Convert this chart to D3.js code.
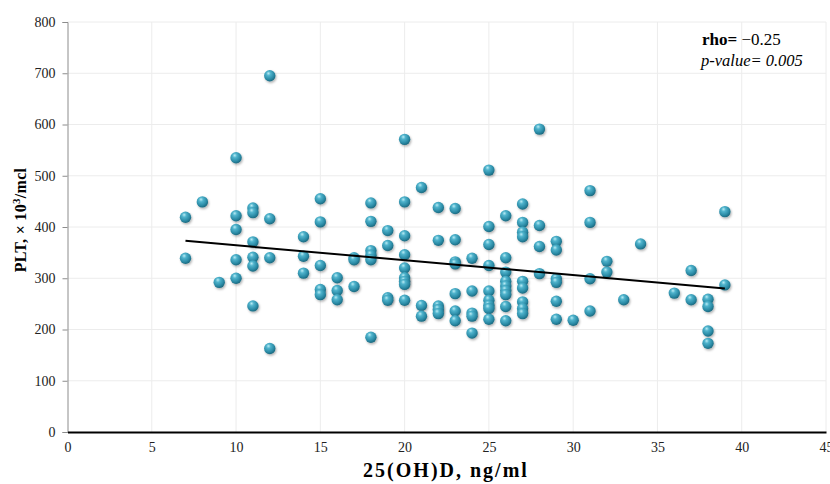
<!DOCTYPE html>
<html><head><meta charset="utf-8">
<script src="https://cdn.jsdelivr.net/npm/d3@7"></script>
<style>body{margin:0;background:#fff}svg{display:block}</style>
</head><body>
<svg id="c" width="830" height="484"></svg>
<script>
// Data: vitamin D (ng/ml) and platelet count (x10^3/mcl)
const vitD = [
 7,7, 8, 9, 10,10,10,10,10, 11,11,11,11,11,11, 12,12,12,12,
 14,14,14, 15,15,15,15,15, 16,16,16, 17,17,17, 18,18,18,18,18,18,
 19,19,19,19, 20,20,20,20,20,20,20,20,20, 21,21,21, 22,22,22,22,22,
 23,23,23,23,23,23,23, 24,24,24,24,24, 25,25,25,25,25,25,25,25,25,
 26,26,26,26,26,26,26,26,26, 27,27,27,27,27,27,27,27,27, 28,28,28,28,
 29,29,29,29,29,29, 30, 31,31,31,31, 32,32, 33, 34, 36, 37,37, 38,38,38,38, 39,39
];
const plt = [
 419,339, 449, 292, 535,422,395,336,300, 437,428,371,341,324,246, 695,416,340,163,
 381,343,310, 455,410,325,278,268, 301,276,258, 340,336,284, 447,411,354,345,336,185,
 393,364,262,257, 571,449,383,346,320,301,294,288,257, 477,247,226, 438,374,246,239,231,
 436,375,332,328,270,236,217, 339,275,232,226,193, 511,401,366,325,275,257,247,241,220,
 422,340,312,294,285,276,268,245,217, 445,409,390,381,294,281,254,241,231, 591,403,362,309,
 372,355,299,292,255,220, 218, 471,409,299,236, 333,312, 258, 367, 271, 315,258, 259,245,197,173, 430,287
];
const trendX = [7, 39];
const trendY = [373, 280];
const xTicks = [0,5,10,15,20,25,30,35,40,45];
const yTicks = [0,100,200,300,400,500,600,700,800];

const svg = d3.select("#c");
const x = d3.scaleLinear().domain([0,45]).range([67.5, 826]);
const y = d3.scaleLinear().domain([0,800]).range([432, 22]);

const defs = svg.append("defs");
const g = defs.append("radialGradient").attr("id","ball").attr("cx","40%").attr("cy","35%").attr("r","65%").attr("fx","38%").attr("fy","28%");
g.append("stop").attr("offset","0%").attr("stop-color","#b9ecf5");
g.append("stop").attr("offset","30%").attr("stop-color","#4fb3cc");
g.append("stop").attr("offset","75%").attr("stop-color","#2a8aa5");
g.append("stop").attr("offset","100%").attr("stop-color","#1c6a80");
const f = defs.append("filter").attr("id","sh").attr("x","-50%").attr("y","-50%").attr("width","200%").attr("height","200%");
f.append("feDropShadow").attr("dx",1).attr("dy",1.5).attr("stdDeviation",1.2).attr("flood-color","#000").attr("flood-opacity",0.3);

// gridlines
svg.append("g").selectAll("line.v").data(xTicks.filter(d=>d>0)).join("line")
  .attr("x1",d=>x(d)).attr("x2",d=>x(d)).attr("y1",y(0)).attr("y2",y(800))
  .attr("stroke","#ececec").attr("stroke-width",1);
svg.append("g").selectAll("line.h").data(yTicks.filter(d=>d>0)).join("line")
  .attr("x1",x(0)).attr("x2",x(45)).attr("y1",d=>y(d)).attr("y2",d=>y(d))
  .attr("stroke","#ececec").attr("stroke-width",1);

// y axis
const yAxis = svg.append("g").attr("transform",`translate(${x(0)},0)`)
  .call(d3.axisLeft(y).tickValues(yTicks).tickSize(5).tickPadding(7));
yAxis.select(".domain").attr("stroke","#8c8c8c");
yAxis.selectAll(".tick line").attr("stroke","#8c8c8c");
yAxis.selectAll("text").attr("font-family","'Liberation Serif', serif").attr("font-size",14).attr("fill","#222");

// x axis
const xAxis = svg.append("g").attr("transform",`translate(0,${y(0)})`)
  .call(d3.axisBottom(x).tickValues(xTicks).tickSize(0).tickPadding(10));
xAxis.select(".domain").attr("stroke","#000").attr("stroke-width",2);
xAxis.selectAll("text").attr("font-family","'Liberation Serif', serif").attr("font-size",14).attr("fill","#222");

// points
const pts = vitD.map((d,i)=>({x:d,y:plt[i]}));
svg.append("g").selectAll("circle").data(pts).join("circle")
  .attr("cx",d=>x(d.x)).attr("cy",d=>y(d.y)).attr("r",5.7)
  .attr("fill","url(#ball)").attr("filter","url(#sh)");

// trend line
svg.append("line").attr("x1",x(trendX[0])).attr("y1",y(trendY[0]))
  .attr("x2",x(trendX[1])).attr("y2",y(trendY[1]))
  .attr("stroke","#000").attr("stroke-width",2);

// axis titles
svg.append("text").attr("x",446).attr("y",477).attr("text-anchor","middle")
  .attr("font-family","'Liberation Serif', serif").attr("font-weight","bold").attr("font-size",20)
  .attr("letter-spacing",2)
  .text("25(OH)D, ng/ml");
const yt = svg.append("text").attr("transform","translate(26,220) rotate(-90)").attr("text-anchor","middle")
  .attr("font-family","'Liberation Serif', serif").attr("font-weight","bold").attr("font-size",16)
  .attr("letter-spacing",0.3);
yt.append("tspan").text("PLT, × 10");
yt.append("tspan").attr("baseline-shift","super").attr("font-size",11).text("3");
yt.append("tspan").text("/mcl");

// annotation
const a1 = svg.append("text").attr("x",702).attr("y",45).attr("font-family","'Liberation Serif', serif").attr("font-size",17);
a1.append("tspan").attr("font-weight","bold").text("rho= ");
a1.append("tspan").text("\u22120.25");
svg.append("text").attr("x",701).attr("y",66).attr("font-family","'Liberation Serif', serif").attr("font-size",16.5)
  .attr("font-style","italic").text("p-value= 0.005");
</script>
</body></html>
